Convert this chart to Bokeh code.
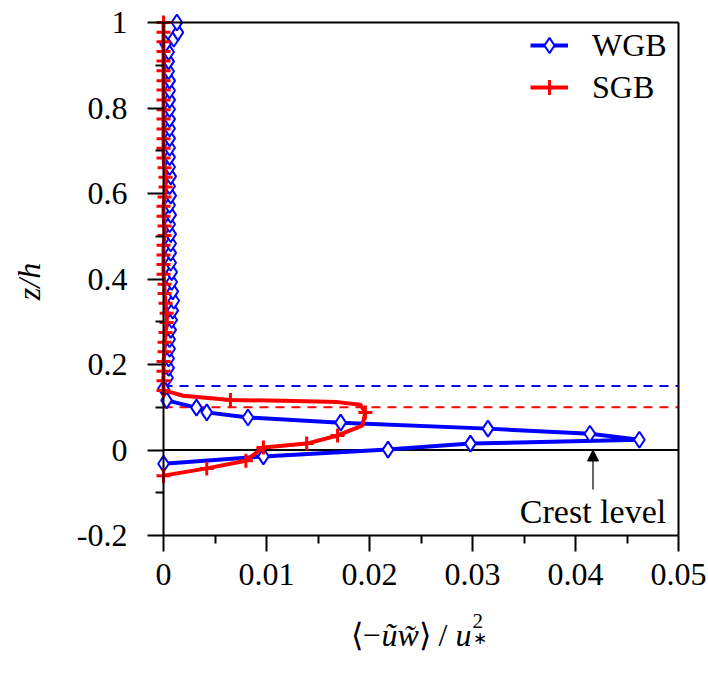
import math
from bokeh.plotting import figure
from bokeh.models import Range1d, FixedTicker, LinearAxis, Label, Arrow, NormalHead
from bokeh.embed import file_html
from bokeh.resources import INLINE

# ---------------- data ----------------
# WGB profile (line and diamond markers), bottom -> top in drawing order
wgb_x = [0.0000, 0.0097, 0.0218, 0.0298, 0.0462, 0.0414, 0.0315, 0.0172, 0.0082,
         0.0042, 0.0032, 0.0003, 0.0000,
         0.0004, 0.0005, 0.0005, 0.0006, 0.0006, 0.0007, 0.0008, 0.0009, 0.0010,
         0.0009, 0.0008, 0.0008, 0.0007, 0.0007, 0.0007, 0.0007, 0.0006, 0.0007,
         0.0006, 0.0007, 0.0006, 0.0007, 0.0006, 0.0006, 0.0006, 0.0006, 0.0006,
         0.0006, 0.0006, 0.0006, 0.0006, 0.0006, 0.0005, 0.0005, 0.0005, 0.0002,
         0.0010, 0.0014, 0.0013]
wgb_z = [-0.032, -0.015, 0.001, 0.015, 0.024, 0.038, 0.050, 0.064, 0.076,
         0.088, 0.099, 0.116, 0.144,
         0.169, 0.192, 0.214, 0.237, 0.259, 0.281, 0.304, 0.326, 0.349,
         0.371, 0.393, 0.416, 0.438, 0.461, 0.483, 0.505, 0.528, 0.550,
         0.573, 0.595, 0.617, 0.640, 0.662, 0.685, 0.707, 0.729, 0.752,
         0.774, 0.797, 0.819, 0.841, 0.864, 0.886, 0.909, 0.931, 0.950,
         0.962, 0.977, 1.000]

# SGB profile: plus markers
sgb_x = [0.0000, 0.0042, 0.0080, 0.0097, 0.0139, 0.0169, 0.0196, 0.0065,
         0.0000, 0.0000, 0.0000, 0.0000, 0.0001, 0.0001, 0.0002, 0.0003, 0.0003,
         0.0002, 0.0001, 0.0001, 0.0000, 0.0000, 0.0000, 0.0000, 0.0001, 0.0001,
         0.0000, 0.0000, 0.0001, 0.0002, 0.0002, 0.0001, 0.0000, 0.0000, 0.0000,
         0.0000, 0.0000, 0.0000, 0.0000, 0.0000, 0.0000, 0.0000, 0.0000, 0.0000,
         0.0000, 0.0000, 0.0000]
sgb_z = [-0.060, -0.043, -0.025, 0.006, 0.015, 0.034, 0.088, 0.117,
         0.139, 0.162, 0.184, 0.207, 0.230, 0.252, 0.275, 0.298, 0.320,
         0.343, 0.366, 0.388, 0.411, 0.434, 0.456, 0.479, 0.502, 0.524,
         0.547, 0.570, 0.592, 0.615, 0.638, 0.660, 0.683, 0.706, 0.728,
         0.751, 0.774, 0.796, 0.819, 0.842, 0.864, 0.887, 0.910, 0.932,
         0.955, 0.977, 1.000]
# SGB curve near the bed (the line bends between the markers)
sgb_bend_x = [0.0000, 0.0042, 0.0080, 0.0097, 0.0139, 0.0169, 0.0193, 0.0196,
              0.0191, 0.0169, 0.0117, 0.0065, 0.0019, 0.0004]
sgb_bend_z = [-0.060, -0.043, -0.025, 0.006, 0.015, 0.034, 0.057, 0.088,
              0.106, 0.112, 0.115, 0.117, 0.127, 0.137]

# reference levels
wgb_level = 0.15
sgb_level = 0.10
crest_level = 0.0
crest_x = 0.0417
crest_text = "Crest level"

# axes
x_ticks = [0.0, 0.01, 0.02, 0.03, 0.04, 0.05]
x_tick_labels = ["0", "0.01", "0.02", "0.03", "0.04", "0.05"]
x_minor = [0.005, 0.015, 0.025, 0.035, 0.045]
y_ticks = [-0.2, 0.0, 0.2, 0.4, 0.6, 0.8, 1.0]
y_tick_labels = ["-0.2", "0", "0.2", "0.4", "0.6", "0.8", "1"]
y_minor = [-0.1, 0.1, 0.3, 0.5, 0.7, 0.9]
X_MIN, X_MAX = 0.0, 0.05
Z_MIN, Z_MAX = -0.2, 1.0

# ---------------- layout: the frame covers the whole canvas ----------------
W, H = 708, 676
PX_X0, PX_X1 = 163, 678      # pixel columns of x = 0 and x = 0.05
PX_ZTOP, PX_ZBOT = 22, 535   # pixel rows of z = 1 and z = -0.2
SX = (PX_X1 - PX_X0) / (X_MAX - X_MIN)
SZ = (PX_ZBOT - PX_ZTOP) / (Z_MAX - Z_MIN)
xr = Range1d(X_MIN - PX_X0 / SX, X_MAX + (W - PX_X1) / SX)
yr = Range1d(Z_MIN - (H - PX_ZBOT) / SZ, Z_MAX + PX_ZTOP / SZ)


def px2x(px):
    return xr.start + px / SX


def px2z(py):
    return yr.end - py / SZ


FONT = "Liberation Serif"
FS = "32px"
BLUE = "#0000FF"
RED = "#FF0000"

p = figure(frame_width=W, frame_height=H, x_range=xr, y_range=yr,
           output_backend="svg", toolbar_location=None, min_border=0,
           background_fill_color="white", border_fill_color="white")
p.outline_line_color = None
p.xgrid.visible = False
p.ygrid.visible = False


def style_axis(ax):
    ax.axis_line_width = 2
    ax.axis_line_color = "black"
    ax.major_tick_line_width = 2
    ax.minor_tick_line_width = 2
    ax.major_tick_in = 0
    ax.minor_tick_in = 0
    ax.major_tick_out = 16
    ax.minor_tick_out = 8
    ax.major_label_text_font = FONT
    ax.major_label_text_font_size = FS
    ax.major_label_text_color = "black"


xa = p.xaxis[0]
style_axis(xa)
xa.ticker = FixedTicker(ticks=x_ticks, minor_ticks=x_minor)
xa.major_label_overrides = dict(zip(x_ticks, x_tick_labels))
xa.bounds = (X_MIN, X_MAX)
xa.fixed_location = Z_MIN
xa.major_label_standoff = 12

ya = p.yaxis[0]
style_axis(ya)
ya.ticker = FixedTicker(ticks=y_ticks, minor_ticks=y_minor)
ya.major_label_overrides = dict(zip(y_ticks, y_tick_labels))
ya.bounds = (Z_MIN, Z_MAX)
ya.fixed_location = X_MIN
ya.major_label_standoff = 20


def frame_line_axis(bounds, loc):
    return LinearAxis(ticker=FixedTicker(ticks=[], minor_ticks=[]), bounds=bounds,
                      fixed_location=loc, axis_line_width=2, axis_line_color="black",
                      major_tick_out=0, minor_tick_out=0, major_tick_in=0,
                      minor_tick_in=0, major_label_text_font_size="0px")


p.add_layout(frame_line_axis((Z_MIN, Z_MAX), X_MAX), "right")
p.add_layout(frame_line_axis((X_MIN, X_MAX), Z_MAX), "above")

# zero (crest) line
p.segment(x0=[X_MIN], y0=[crest_level], x1=[X_MAX], y1=[crest_level],
          line_color="black", line_width=2)

# dashed reference levels
p.segment(x0=[X_MIN], y0=[wgb_level], x1=[X_MAX], y1=[wgb_level],
          line_color=BLUE, line_width=2, line_dash="9 7")
p.segment(x0=[X_MIN], y0=[sgb_level], x1=[X_MAX], y1=[sgb_level],
          line_color=RED, line_width=2, line_dash="9 7")

# WGB
p.line(wgb_x, wgb_z, line_color=BLUE, line_width=4, legend_label="WGB")
p.scatter(wgb_x, wgb_z, marker="diamond", size=16, line_color=BLUE, line_width=2,
          fill_color="white", legend_label="WGB")

# SGB
sgb_line_x = sgb_bend_x + sgb_x[8:]
sgb_line_z = sgb_bend_z + sgb_z[8:]
p.line(sgb_line_x, sgb_line_z, line_color=RED, line_width=4, legend_label="SGB")
p.scatter(sgb_x, sgb_z, marker="cross", size=14, line_color=RED, line_width=3,
          legend_label="SGB")

# crest level arrow and text
p.add_layout(Arrow(end=NormalHead(size=11, fill_color="black", line_color="black"),
                   x_start=crest_x, y_start=px2z(489), x_end=crest_x, y_end=crest_level,
                   line_color="black", line_width=1.2))
p.add_layout(Label(x=crest_x, y=px2z(511), text=crest_text, text_font=FONT,
                   text_font_size="34px", text_align="center",
                   text_baseline="alphabetic", text_color="black"))

# legend (location = bottom-left corner of the legend box, from the frame's bottom-left)
lg = p.legend[0]
lg.margin = 0
lg.padding = 0
lg.spacing = 4
lg.glyph_width = 38
lg.glyph_height = 38
lg.label_height = 38
lg.label_standoff = 24
lg.label_text_font = FONT
lg.label_text_font_size = FS
lg.label_text_color = "black"
lg.background_fill_alpha = 0
lg.border_line_color = None
lg.location = (530, H - 106)

# y axis title
p.add_layout(Label(x=px2x(28), y=px2z(281), text="z/h", angle=math.pi / 2,
                   text_font=FONT, text_font_size=FS, text_font_style="italic",
                   text_align="center", text_baseline="middle", text_color="black"))

# x axis title built from pieces
base = px2z(634)
pieces = [
    (350, "⟨−", "normal", FS, base),
    (381, "ũw̃", "italic", FS, base),
    (418, "⟩ /", "normal", FS, base),
    (455, "u", "italic", FS, base),
    (472, "2", "normal", "21px", px2z(620)),
    (472, "∗", "normal", "17px", px2z(638)),
]
for px, txt, style, size, zb in pieces:
    p.add_layout(Label(x=px2x(px), y=zb, text=txt, text_font=FONT, text_font_size=size,
                       text_font_style=style, text_align="left",
                       text_baseline="alphabetic", text_color="black"))

open("out.html", "w").write(file_html(p, INLINE))
